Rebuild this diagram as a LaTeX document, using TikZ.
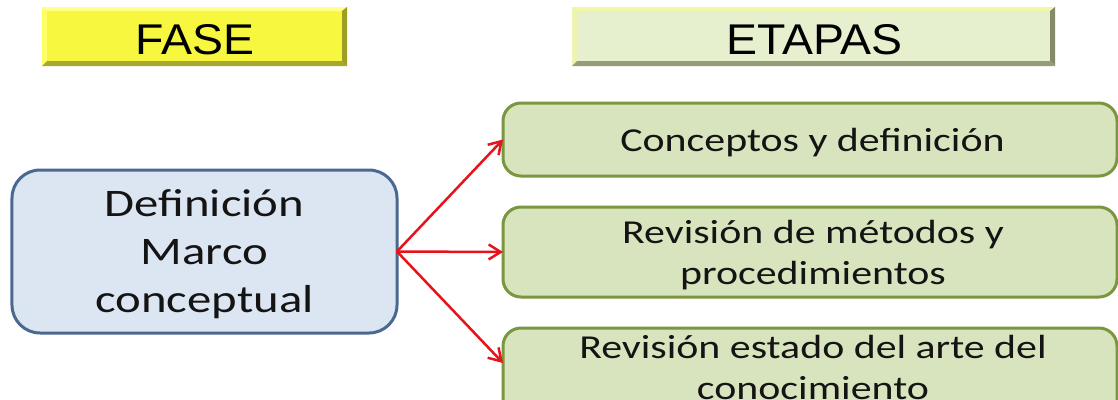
\documentclass[tikz,border=0pt]{standalone}
\usepackage{fontspec}
\setmainfont{Carlito}
\newfontfamily\titlefont{Liberation Sans}
\usetikzlibrary{arrows.meta,calc}
\definecolor{fasemain}{HTML}{F7F740}
\definecolor{fasetop}{HTML}{FFFF8A}
\definecolor{faseleft}{HTML}{FFFF66}
\definecolor{faseright}{HTML}{9E9E24}
\definecolor{fasebottom}{HTML}{A8A830}
\definecolor{etamain}{HTML}{E6F0CF}
\definecolor{etatop}{HTML}{F2F7A6}
\definecolor{etaleft}{HTML}{EEF4B0}
\definecolor{etaright}{HTML}{868A6C}
\definecolor{etabottom}{HTML}{969C78}
\definecolor{deffill}{HTML}{DCE6F2}
\definecolor{defline}{HTML}{4A6890}
\definecolor{stepfill}{HTML}{D7E4BD}
\definecolor{stepline}{HTML}{7A963F}
\definecolor{arrowred}{HTML}{E8121A}
\definecolor{txt}{HTML}{141414}
\tikzset{
  titlebox/.style={rectangle, inner sep=0pt, outer sep=0pt},
  titletext/.style={inner sep=0pt, font=\titlefont\fontsize{43bp}{50bp}\selectfont, text=black},
  defbox/.style={rectangle, rounded corners=28bp, draw=defline, fill=deffill, line width=3bp, inner sep=0pt, outer sep=0pt},
  stepbox/.style={rectangle, rounded corners=18bp, draw=stepline, fill=stepfill, line width=3bp, inner sep=0pt, outer sep=0pt, minimum width=614bp},
  lbl/.style={inner sep=0pt, text=txt},
  redarrow/.style={draw=arrowred, line width=2.5bp, -{Straight Barb[length=12bp,width=15bp,line width=2.5bp]}}
}
\begin{document}
\begin{tikzpicture}[x=1bp,y=-1bp]
\clip (0,0) rectangle (1118,399);
\fill[white] (0,0) rectangle (1118,399);

% FASE title
\node[titlebox, fill=fasemain, minimum width=305bp, minimum height=59bp] (fase) at (194.5,36.5) {};
\fill[fasetop] (fase.north west) -- (fase.north east) -- ([shift={(-5bp,-4bp)}]fase.north east) -- ([shift={(5bp,-4bp)}]fase.north west) -- cycle;
\fill[faseleft] (fase.north west) -- ([shift={(5bp,-4bp)}]fase.north west) -- ([shift={(5bp,5bp)}]fase.south west) -- (fase.south west) -- cycle;
\fill[faseright] (fase.north east) -- ([shift={(-5bp,-4bp)}]fase.north east) -- ([shift={(-5bp,5bp)}]fase.south east) -- (fase.south east) -- cycle;
\fill[fasebottom] (fase.south west) -- (fase.south east) -- ([shift={(-5bp,5bp)}]fase.south east) -- ([shift={(5bp,5bp)}]fase.south west) -- cycle;
\node[titletext, anchor=base] (fase-t) at (195,54) {\scalebox{1.08}[1]{FASE}};

% ETAPAS title
\node[titlebox, fill=etamain, minimum width=483bp, minimum height=59bp] (etapas) at (813.5,36.5) {};
\fill[etatop] (etapas.north west) -- (etapas.north east) -- ([shift={(-5bp,-4bp)}]etapas.north east) -- ([shift={(5bp,-4bp)}]etapas.north west) -- cycle;
\fill[etaleft] (etapas.north west) -- ([shift={(5bp,-4bp)}]etapas.north west) -- ([shift={(5bp,5bp)}]etapas.south west) -- (etapas.south west) -- cycle;
\fill[etaright] (etapas.north east) -- ([shift={(-5bp,-4bp)}]etapas.north east) -- ([shift={(-5bp,5bp)}]etapas.south east) -- (etapas.south east) -- cycle;
\fill[etabottom] (etapas.south west) -- (etapas.south east) -- ([shift={(-5bp,5bp)}]etapas.south east) -- ([shift={(5bp,5bp)}]etapas.south west) -- cycle;
\node[titletext, anchor=base] (etapas-t) at (814.5,54) {\scalebox{1.08}[1]{ETAPAS}};

% left box
\node[defbox, minimum width=385bp, minimum height=163bp] (def) at (204.5,251.5) {};
\node[lbl, font=\fontsize{39bp}{48bp}\selectfont] (def-t) at (204.5,254.4)
  {\scalebox{1.25}[1]{\begin{tabular}{@{}c@{}}Definición\\Marco\\conceptual\end{tabular}}};

% right boxes
\node[stepbox, minimum height=73bp] (c1) at (810,139.5) {};
\node[lbl, font=\fontsize{33.5bp}{41bp}\selectfont] (c1-t) at (812.5,142.8)
  {\scalebox{1.25}[1]{\begin{tabular}{@{}c@{}}Conceptos y definición\end{tabular}}};

\node[stepbox, minimum height=90bp] (c2) at (810,252) {};
\node[lbl, font=\fontsize{33.5bp}{41bp}\selectfont] (c2-t) at (813,255.3)
  {\scalebox{1.25}[1]{\begin{tabular}{@{}c@{}}Revisión de métodos y\\procedimientos\end{tabular}}};

\node[stepbox, minimum height=102bp] (c3) at (810,379) {};
\node[lbl, font=\fontsize{33.5bp}{41bp}\selectfont] (c3-t) at (813,370.3)
  {\scalebox{1.25}[1]{\begin{tabular}{@{}c@{}}Revisión estado del arte del\\conocimiento\end{tabular}}};
\coordinate (t3) at ($(c3.north west)+(0,35)$);

% arrows
\draw[redarrow] (def.east) -- (c1.west);
\draw[redarrow] (def.east) -- (c2.west);
\draw[redarrow] (def.east) -- (t3);
\end{tikzpicture}
\end{document}
